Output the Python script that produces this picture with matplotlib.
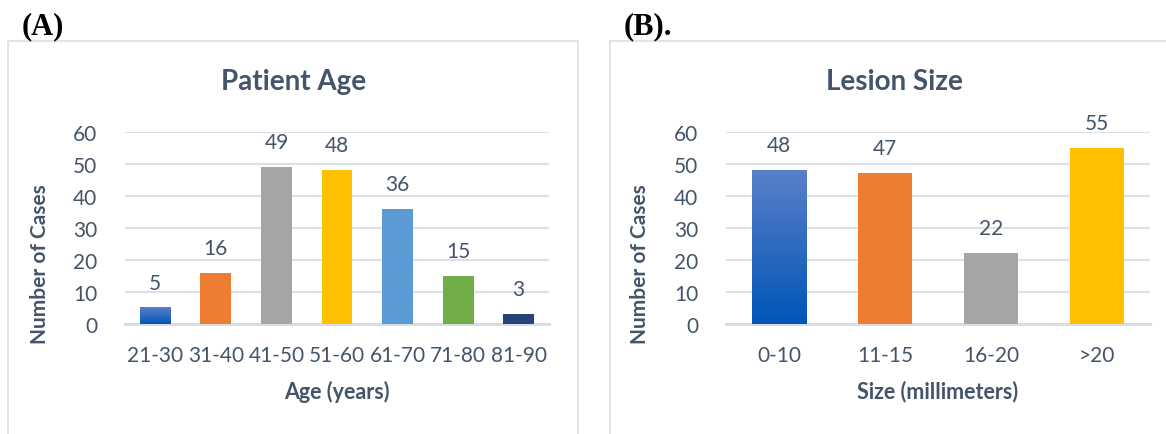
import numpy as np
import matplotlib
matplotlib.use('Agg')
import matplotlib.pyplot as plt
from matplotlib.patches import Rectangle
from matplotlib.colors import LinearSegmentedColormap

# age distribution
age_groups = ['21-30', '31-40', '41-50', '51-60', '61-70', '71-80', '81-90']
age_cases = [5, 16, 49, 48, 36, 15, 3]
age_colors = ['#0055B8', '#ED7D31', '#A5A5A5', '#FFC000', '#5B9BD5', '#70AD47', '#264478']

# lesion size distribution
size_groups = ['0-10', '11-15', '16-20', '>20']
size_cases = [48, 47, 22, 55]
size_colors = ['#0055B8', '#ED7D31', '#A5A5A5', '#FFC000']

TXT = '#44546A'
GRID = '#DDE1E7'
BOX = '#DDE3EA'

plt.rcParams['font.family'] = ['Lato', 'DejaVu Sans']

W, H = 1166, 435
fig = plt.figure(figsize=(W/100, H/100), dpi=100)

def frac(x, y):
    return x/W, 1-y/H

def rect(x0, y0, x1, y1):
    return [x0/W, 1-y1/H, (x1-x0)/W, (y1-y0)/H]

def gradient_bar(ax, bar, top='#5A7FCA', bottom='#0055B8'):
    x0 = bar.get_x(); w = bar.get_width(); h = bar.get_height()
    cmap = LinearSegmentedColormap.from_list('grad', [top, bottom])
    ax.imshow(np.linspace(0, 1, 256).reshape(-1, 1), cmap=cmap, aspect='auto',
              origin='upper', extent=(x0, x0+w, 0, h), zorder=3)
    bar.set_facecolor('none')

def panel(axrect, cats, vals, colors, title, xlabel, tag, box_x0, box_x1, title_x, ylab_x):
    # chart border
    fig.add_artist(Rectangle(frac(box_x0, 440), (box_x1-box_x0)/W, (440-42)/H,
                             transform=fig.transFigure, fill=False, ec=BOX, lw=1.3))
    ax = fig.add_axes(axrect)
    x = np.arange(len(cats))
    bars = ax.bar(x, vals, width=0.51, color=colors, zorder=3)
    gradient_bar(ax, bars[0])
    for b, v in zip(bars, vals):
        ax.text(b.get_x()+b.get_width()/2, v+7.8, str(v), ha='center', va='center',
                color=TXT, fontsize=15)
    ax.set_xlim(-0.5, len(cats)-0.5)
    ax.set_ylim(0, 60)
    ax.set_yticks(range(0, 61, 10))
    ax.set_xticks(x)
    ax.set_xticklabels(cats)
    ax.tick_params(length=0, labelsize=15, labelcolor=TXT)
    ax.tick_params(axis='y', pad=20)
    ax.tick_params(axis='x', pad=15)
    ax.grid(axis='y', color=GRID, lw=1.5, zorder=0)
    ax.set_axisbelow(True)
    for s in ['top', 'right', 'left']:
        ax.spines[s].set_visible(False)
    ax.spines['bottom'].set_color('#D9DDE3')
    ax.spines['bottom'].set_linewidth(2.2)
    ax.set_xlabel(xlabel, color=TXT, fontsize=15.5, fontweight='bold', labelpad=11)
    tx, ty = frac(title_x, 82)
    fig.text(tx, ty, title, ha='center', va='center', color=TXT, fontsize=20, fontweight='bold')
    lx, ly = frac(ylab_x, 264)
    fig.text(lx, ly, 'Number of Cases', rotation=90, ha='center', va='center',
             color=TXT, fontsize=15, fontweight='bold')
    px, py = frac(box_x0+14, 27)
    fig.text(px, py, tag, ha='left', va='center', fontsize=22, fontweight='bold',
             family='Liberation Serif', color='black')
    return ax

panel(rect(125, 132.7, 549, 325), age_groups, age_cases, age_colors,
      'Patient Age', 'Age (years)', '(A)', 8, 578, 293.5, 40)
panel(rect(726, 132.7, 1150, 325), size_groups, size_cases, size_colors,
      'Lesion Size', 'Size (millimeters)', '(B).', 610, 1200, 894, 640)

fig.savefig('out.png', dpi=100)
